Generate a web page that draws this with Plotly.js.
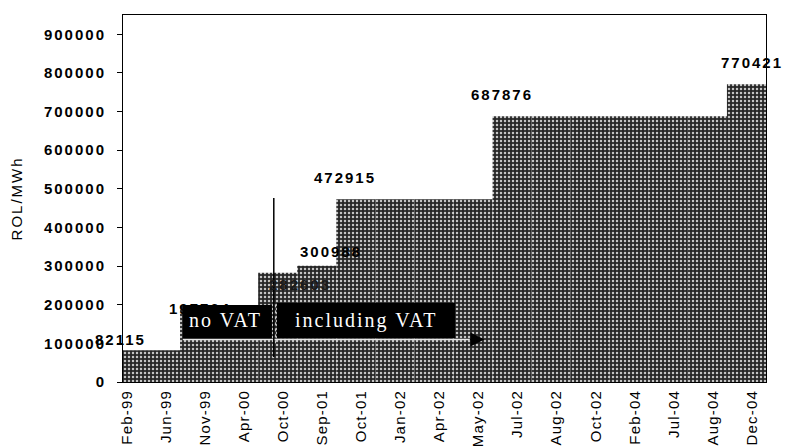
<!DOCTYPE html>
<html>
<head>
<meta charset="utf-8">
<script src="https://cdn.plot.ly/plotly-3.0.1.min.js"></script>
<style>
  html, body { margin: 0; padding: 0; background: #ffffff; }
  #chart { width: 785px; height: 447px; }
  #chart .main-svg text { letter-spacing: 2px; }
  #chart .main-svg .xtick text { letter-spacing: 1.2px; }
</style>
</head>
<body>
<div id="chart"></div>
<script>
// ---- data ----
const categories = ['Feb-99','Jun-99','Nov-99','Apr-00','Oct-00','Sep-01','Oct-01','Jan-02','Apr-02',
                    'May-02','Jul-02','Aug-02','Oct-02','Feb-04','Jul-04','Aug-04','Dec-04'];
const prices = [82115, 82115, 197764, 197764, 282603, 300988, 472915, 472915, 472915,
                472915, 687876, 687876, 687876, 687876, 687876, 687876, 770421];
const labelledCategories = ['Feb-99','Nov-99','Oct-00','Sep-01','Oct-01','Jul-02','Dec-04'];
const yTickValues = [0, 100000, 200000, 300000, 400000, 500000, 600000, 700000, 800000, 900000];
const noteNoVat = 'no VAT';
const noteWithVat = 'including VAT';
const yTitle = 'ROL/MWh';

// ---- styling ----
const sans = 'Liberation Sans, Arial, sans-serif';
const serif = 'Liberation Serif, Times New Roman, serif';
// pixel nudges for the value labels
const labelShift = {
  'Feb-99': [-6, 11], 'Nov-99': [-5, -3], 'Oct-00': [17, -12], 'Sep-01': [9, 14],
  'Oct-01': [-16, 22], 'Jul-02': [-16, 22], 'Dec-04': [0, 22]
};
const labelColor = { 'Oct-00': '#1a1a1a' };

const trace = {
  type: 'bar',
  x: categories,
  y: prices,
  width: 1,
  offset: -0.64,
  marker: {
    color: '#262626',
    line: { width: 0 },
    pattern: { shape: '.', fgcolor: '#c4c4c4', bgcolor: '#262626', size: 4, solidity: 0.3, fillmode: 'replace' }
  },
  hoverinfo: 'x+y'
};

const annotations = labelledCategories.map(c => ({
  x: c, y: prices[categories.indexOf(c)], xref: 'x', yref: 'y',
  text: String(prices[categories.indexOf(c)]), showarrow: false,
  xshift: labelShift[c][0], yshift: labelShift[c][1],
  font: { family: sans, size: 15, color: labelColor[c] || '#000', weight: 'bold' }
}));

annotations.push(
  { x: 2.53, y: 160500, xref: 'x', yref: 'y', text: noteNoVat, showarrow: false,
    font: { family: serif, size: 20, color: '#ffffff' } },
  { x: 6.14, y: 160500, xref: 'x', yref: 'y', text: noteWithVat, showarrow: false,
    font: { family: serif, size: 20, color: '#ffffff' } },
  { x: 9.15, y: 110000, xref: 'x', yref: 'y', text: '', showarrow: true,
    ax: -16, ay: 0, arrowhead: 2, arrowsize: 1.4, arrowwidth: 2, arrowcolor: '#000' },
  { x: -0.165, y: 0.5, xref: 'paper', yref: 'paper', xanchor: 'center', yanchor: 'middle',
    text: yTitle, showarrow: false, textangle: -90,
    font: { family: sans, size: 15, color: '#000' } }
);

const shapes = [
  { type: 'rect', xref: 'x', yref: 'y', x0: 1.43, x1: 3.71, y0: 110000, y1: 199300,
    fillcolor: '#000', line: { width: 0 } },
  { type: 'rect', xref: 'x', yref: 'y', x0: 3.84, x1: 8.40, y0: 113900, y1: 204500,
    fillcolor: '#000', line: { width: 0 } },
  { type: 'line', xref: 'x', yref: 'y', x0: 1.43, x1: 9.0, y0: 110000, y1: 110000,
    line: { color: '#e6e6e6', width: 1.5 } },
  { type: 'line', xref: 'x', yref: 'y', x0: 3.80, x1: 3.80, y0: 100000, y1: 204500,
    line: { color: '#e0e0e0', width: 1, dash: 'dot' } },
  { type: 'line', xref: 'x', yref: 'y', x0: 3.76, x1: 3.76, y0: 64700, y1: 476300,
    line: { color: '#000', width: 1.5 } }
];

const layout = {
  width: 785, height: 447,
  margin: { l: 123, r: 19, t: 15, b: 65 },
  paper_bgcolor: '#ffffff', plot_bgcolor: '#ffffff',
  showlegend: false,
  xaxis: {
    type: 'category', range: [-0.10, 16.36],
    tickangle: -90, ticks: '', ticklabelstandoff: 1,
    tickfont: { family: sans, size: 15, color: '#000' },
    showline: true, mirror: true, linecolor: '#000', linewidth: 1,
    showgrid: false, zeroline: false, fixedrange: true
  },
  yaxis: {
    range: [0, 950000], tickvals: yTickValues, tickformat: 'd',
    ticks: 'outside', ticklen: 5, tickcolor: '#000', ticklabelstandoff: 8,
    tickfont: { family: sans, size: 15, color: '#000', weight: 'bold' },
    showline: true, mirror: true, linecolor: '#000', linewidth: 1,
    showgrid: false, zeroline: false, fixedrange: true
  },
  shapes: shapes,
  annotations: annotations
};

Plotly.newPlot('chart', [trace], layout, { displayModeBar: false, staticPlot: true });
</script>
</body>
</html>
